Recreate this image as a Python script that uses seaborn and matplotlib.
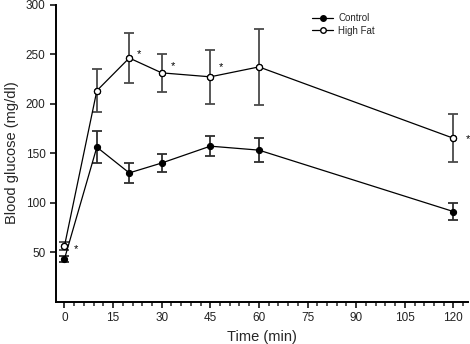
import matplotlib
matplotlib.use("Agg")
import matplotlib.pyplot as plt
from matplotlib.ticker import MultipleLocator
from matplotlib.lines import Line2D
import seaborn as sns
import pandas as pd

time_min = [0, 10, 20, 30, 45, 60, 120]
control_mean = [43, 156, 130, 140, 157, 153, 91]
control_err = [3, 16, 10, 9, 10, 12, 9]
highfat_mean = [56, 213, 246, 231, 227, 237, 165]
highfat_err = [4, 22, 25, 19, 27, 38, 24]
groups = ["Control", "High Fat"]

# significance marks (time, glucose level)
star_time = [3.6, 22.9, 33.5, 48.4, 124.5]
star_level = [56, 252.7, 240.6, 240, 166.7]

xticks = [0, 15, 30, 45, 60, 75, 90, 105, 120]
yticks = [50, 100, 150, 200, 250, 300]

sns.set_style("ticks")
plt.rcParams["font.family"] = ["Liberation Sans", "DejaVu Sans"]

df = pd.concat([
    pd.DataFrame({"time": time_min, "glucose": control_mean, "err": control_err, "group": groups[0]}),
    pd.DataFrame({"time": time_min, "glucose": highfat_mean, "err": highfat_err, "group": groups[1]}),
], ignore_index=True)

fig = plt.figure(figsize=(4.70, 3.44), dpi=100)
ax = fig.add_axes([56 / 470, 42.3 / 344, 412 / 470, 297.2 / 344])

err_colors = {"Control": "#2e2e2e", "High Fat": "#4a4a4a"}
for g in groups:
    sub = df[df["group"] == g]
    ax.errorbar(sub["time"], sub["glucose"], yerr=sub["err"], fmt="none",
                ecolor=err_colors[g], elinewidth=1.3, capsize=3.6, capthick=1.3, zorder=2)

sns.lineplot(data=df, x="time", y="glucose", hue="group", style="group",
             palette={"Control": "black", "High Fat": "black"},
             markers={"Control": "o", "High Fat": "o"},
             dashes={"Control": "", "High Fat": ""},
             linewidth=0.9, markersize=4.4, markeredgecolor="black",
             markeredgewidth=0.8, ax=ax, legend=False, zorder=3)

# open markers for the high fat group
hf = df[df["group"] == "High Fat"]
ax.plot(hf["time"], hf["glucose"], linestyle="none", marker="o", markersize=4.4,
        markerfacecolor="white", markeredgecolor="black", markeredgewidth=0.9, zorder=4)

for xs, ys in zip(star_time, star_level):
    ax.text(xs, ys - 3, "*", fontsize=8, ha="center", va="center", color="black")

handles = [
    Line2D([], [], color="black", lw=0.9, marker="o", markersize=4, markerfacecolor="black"),
    Line2D([], [], color="black", lw=0.9, marker="o", markersize=4, markerfacecolor="white"),
]
ax.legend(handles, groups, loc="upper left", bbox_to_anchor=(0.6, 1.0), frameon=False,
          fontsize=7, handlelength=2.2, handletextpad=0.5, labelspacing=0.25)

ax.set_xlim(-2.6, 124.5)
ax.set_ylim(0, 300)
ax.set_xticks(xticks)
ax.set_yticks(yticks)
ax.xaxis.set_minor_locator(MultipleLocator(3))
ax.tick_params(axis="both", which="major", labelsize=8.5, length=4, width=1.1,
               colors="black", labelcolor="#222222")
ax.tick_params(axis="x", which="minor", length=3, width=1.1)
ax.set_xlabel("Time (min)", fontsize=10.5)
ax.set_ylabel("Blood glucose (mg/dl)", fontsize=10.5, labelpad=5)

sns.despine(ax=ax)
for side in ("left", "bottom"):
    ax.spines[side].set_linewidth(1.4)
    ax.spines[side].set_color("black")

fig.savefig("out.png", dpi=100)
